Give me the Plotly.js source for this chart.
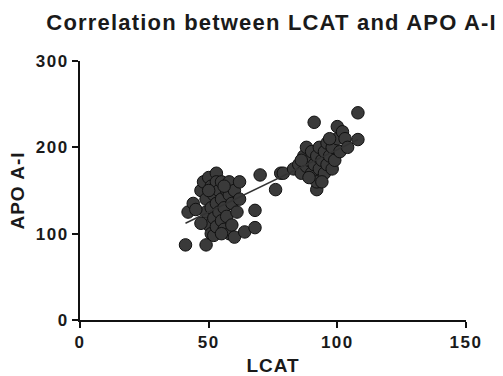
<!DOCTYPE html>
<html>
<head>
<meta charset="utf-8">
<script src="https://cdn.plot.ly/plotly-3.0.1.min.js"></script>
<style>
html,body{margin:0;padding:0;background:#fff;}
#chart{width:503px;height:376px;}
.gtitle{letter-spacing:1.2px;}
.xtick text,.ytick text{letter-spacing:1.5px;}
.xtitle,.ytitle{letter-spacing:1px;}
</style>
</head>
<body>
<div id="chart"></div>
<script>
// LCAT values (x)
const lcat = [
  41,49,42,44,47,48,49,49,50,50,51,51,51,52,52,52,53,53,53,53,54,54,55,55,55,56,56,57,57,58,58,58,59,59,60,60,61,62,62,64,68,68,70,76,78,45,47,55,50,56,
  79,83,85,86,87,88,88,89,90,90,91,91,92,92,92,93,93,94,95,95,96,96,97,98,98,99,100,100,101,102,103,104,108,108,94,89,97,86
];
// APO A-I values (y)
const apo = [
  87,87,125,135,150,160,140,125,110,165,155,130,100,145,118,98,170,160,135,108,150,125,140,115,160,130,105,150,120,145,100,160,135,110,150,96,125,160,140,102,127,107,168,151,170,128,112,100,150,155,
  170,175,180,170,190,178,200,185,170,195,229,180,151,190,160,175,200,185,170,195,180,205,190,175,200,185,224,210,195,218,210,200,240,209,160,165,210,185
];
const xTicks = [0, 50, 100, 150];
const yTicks = [0, 100, 200, 300];

// least squares linear fit
const n = lcat.length;
const mx = lcat.reduce((a,b)=>a+b,0)/n;
const my = apo.reduce((a,b)=>a+b,0)/n;
let sxy = 0, sxx = 0;
for (let i=0;i<n;i++){ sxy += (lcat[i]-mx)*(apo[i]-my); sxx += (lcat[i]-mx)**2; }
const slope = sxy/sxx, icpt = my - slope*mx;
const xmin = Math.min(...lcat), xmax = Math.max(...lcat);
const fitX = [xmin, xmax];
const fitY = fitX.map(v => icpt + slope*v);

const font = {family: 'Liberation Sans, Arial, sans-serif', color: '#1a1a1a', weight: 'bold'};

Plotly.newPlot('chart', [
  {x: lcat, y: apo, type: 'scatter', mode: 'markers',
   marker: {size: 12.5, color: '#3a3a3a', line: {color: '#111', width: 1}}, hoverinfo: 'skip'},
  {x: fitX, y: fitY, type: 'scatter', mode: 'lines',
   line: {color: '#333', width: 1.5}, hoverinfo: 'skip'}
], {
  width: 503, height: 376,
  margin: {l: 80, r: 37, t: 61, b: 56},
  showlegend: false,
  paper_bgcolor: '#fff', plot_bgcolor: '#fff',
  title: {text: 'Correlation between LCAT and APO A-I', x: 0.54, xref: 'container', xanchor: 'center',
          y: 0.942, yref: 'container', yanchor: 'middle',
          font: Object.assign({}, font, {size: 22})},
  xaxis: {range: [0, 150], tickvals: xTicks, ticktext: xTicks.map(String),
          showgrid: false, zeroline: false, showline: true, linecolor: '#111', linewidth: 2,
          ticks: 'outside', ticklen: 6, tickwidth: 2, tickcolor: '#111',
          tickfont: Object.assign({}, font, {size: 17}),
          title: {text: 'LCAT', standoff: 7, font: Object.assign({}, font, {size: 19})}},
  yaxis: {range: [0, 300], tickvals: yTicks, ticktext: yTicks.map(String),
          showgrid: false, zeroline: false, showline: true, linecolor: '#111', linewidth: 2,
          ticks: 'outside', ticklen: 6, tickwidth: 2, tickcolor: '#111',
          tickfont: Object.assign({}, font, {size: 17}),
          title: {text: 'APO A-I', standoff: 6, font: Object.assign({}, font, {size: 19})}}
}, {staticPlot: true});
</script>
</body>
</html>
